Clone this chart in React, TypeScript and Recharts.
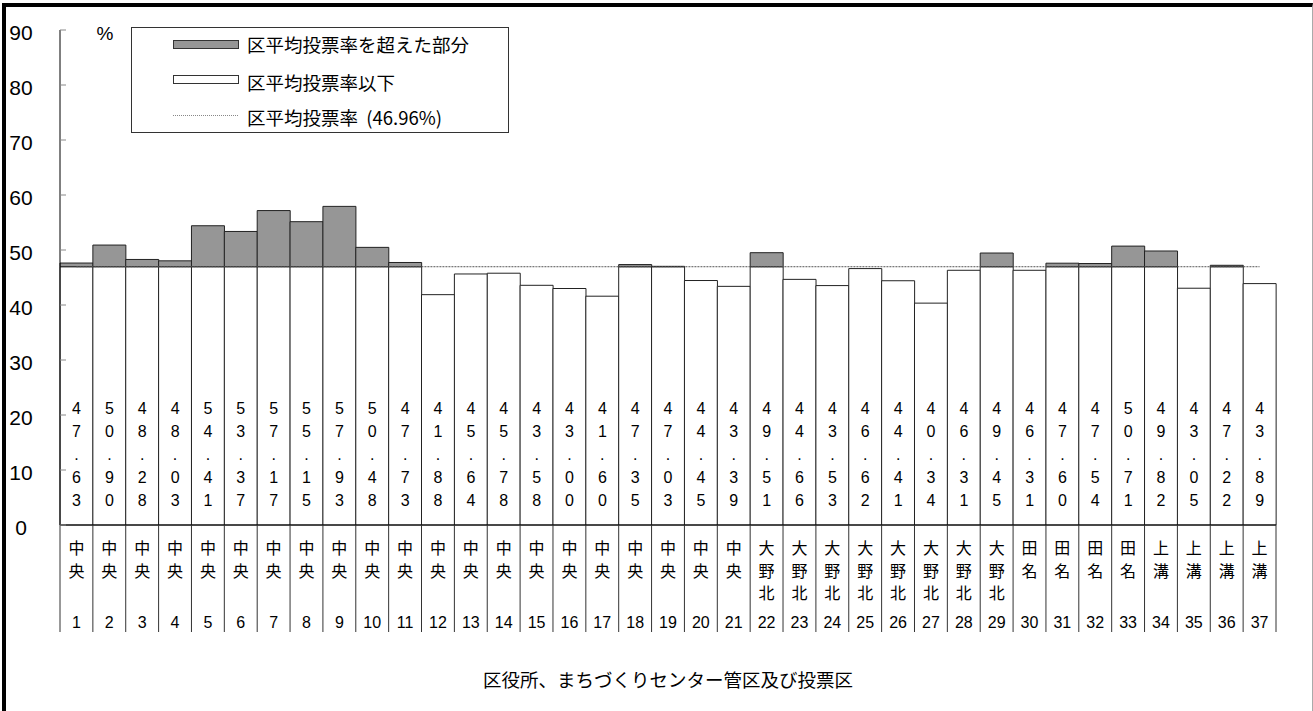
import React from 'react';
import { ComposedChart, Bar, Line, XAxis, YAxis, Legend, LabelList } from 'recharts';

// ---- data ----
const precincts = ['1','2','3','4','5','6','7','8','9','10','11','12','13','14','15','16','17','18','19','20','21','22','23','24','25','26','27','28','29','30','31','32','33','34','35','36','37'];
const areaNames = [
  '中央','中央','中央','中央','中央','中央','中央','中央','中央','中央','中央','中央','中央','中央','中央','中央','中央','中央','中央','中央','中央',
  '大野北','大野北','大野北','大野北','大野北','大野北','大野北','大野北',
  '田名','田名','田名','田名',
  '上溝','上溝','上溝','上溝',
];
const turnout = [
  47.63, 50.90, 48.28, 48.03, 54.41, 53.37, 57.17, 55.15, 57.93, 50.48,
  47.73, 41.88, 45.64, 45.78, 43.58, 43.00, 41.60, 47.35, 47.03, 44.45,
  43.39, 49.51, 44.66, 43.53, 46.62, 44.41, 40.34, 46.31, 49.45, 46.31,
  47.60, 47.54, 50.71, 49.82, 43.05, 47.22, 43.89,
];
const wardAverage = 46.96;
const yTicks = [0, 10, 20, 30, 40, 50, 60, 70, 80, 90];
const legendLabels = ['区平均投票率を超えた部分', '区平均投票率以下', '区平均投票率  (46.96%)'];
const axisTitle = '区役所、まちづくりセンター管区及び投票区';
const unitLabel = '%';

const data = precincts.map((p, i) => ({
  precinct: p,
  area: areaNames[i],
  value: turnout[i],
  base: Math.min(turnout[i], wardAverage),
  excess: Math.max(0, +(turnout[i] - wardAverage).toFixed(2)),
  avg: wardAverage,
}));

// ---- layout ----
const W = 1313;
const H = 711;
const MARGIN = { top: 30, right: 37, bottom: 26, left: 0 };
const YAXIS_W = 60;
const XAXIS_H = 160;
const PLOT_W = W - MARGIN.left - MARGIN.right - YAXIS_W;
const BAND = PLOT_W / precincts.length;

const LATIN = '"Liberation Sans", Arial, "Noto Sans CJK JP", sans-serif';
const CJK = '"Noto Sans CJK JP", "Liberation Sans", sans-serif';
const GRAY = '#969696';

const YTick = (props: any) => {
  const { x, y, payload } = props;
  return (
    <g>
      <line x1={x} x2={x + 6} y1={y} y2={y} stroke="#888" strokeWidth={1} />
      <text x={x - 39} y={y + 2} textAnchor="middle" dominantBaseline="central" fontSize={21} fontFamily={LATIN} fill="#000">
        {payload.value}
      </text>
    </g>
  );
};

const XTick = (props: any) => {
  const { x, y, payload } = props;
  const idx = precincts.indexOf(String(payload.value));
  const name = areaNames[idx] || '';
  const chars = name.split('');
  return (
    <g>
      {idx === 0 && <line x1={x - BAND / 2} x2={x - BAND / 2} y1={y} y2={y + 107} stroke="#333" strokeWidth={1} />}
      <line x1={x + BAND / 2} x2={x + BAND / 2} y1={y} y2={y + 107} stroke="#333" strokeWidth={1} />
      {chars.map((c, k) => (
        <text key={k} x={x} y={y + 22 + k * 22.5} textAnchor="middle" dominantBaseline="central" fontSize={16} fontFamily={CJK} fill="#000">
          {c}
        </text>
      ))}
      <text x={x} y={y + 97} textAnchor="middle" dominantBaseline="central" fontSize={16} fontFamily={LATIN} fill="#000">
        {payload.value}
      </text>
    </g>
  );
};

const ValueLabel = (props: any) => {
  const { x, y, width, height, index, value } = props;
  const v = typeof value === 'number' ? value : turnout[index];
  const s = Number(v).toFixed(2);
  const cx = Number(x) + Number(width) / 2;
  const bottom = Number(y) + Number(height);
  const n = s.length;
  return (
    <g>
      {s.split('').map((c, k) => (
        <text key={k} x={cx} y={bottom - 25 - (n - 1 - k) * 23} textAnchor="middle" dominantBaseline="central" fontSize={16} fontFamily={LATIN} fill="#000">
          {c}
        </text>
      ))}
    </g>
  );
};

const renderLegend = () => (
  <svg width={420} height={115} style={{ overflow: 'visible', display: 'block' }}>
    <text x={15} y={13} textAnchor="middle" dominantBaseline="central" fontSize={19} fontFamily={LATIN} fill="#000">{unitLabel}</text>
    <rect x={41.5} y={7.5} width={377} height={105} fill="#fff" stroke="#333" strokeWidth={1} />
    <rect x={83.5} y={20.5} width={65} height={8} fill={GRAY} stroke="#333" strokeWidth={1} />
    <text x={157} y={24} dominantBaseline="central" fontSize={18.5} fontFamily={CJK} fill="#000">{legendLabels[0]}</text>
    <rect x={83.5} y={55.5} width={65} height={8} fill="#fff" stroke="#333" strokeWidth={1} />
    <text x={157} y={62} dominantBaseline="central" fontSize={18.5} fontFamily={CJK} fill="#000">{legendLabels[1]}</text>
    <line x1={83} x2={148} y1={95.5} y2={95.5} stroke="#888" strokeWidth={1} strokeDasharray="1 1" />
    <text x={157} y={97} dominantBaseline="central" fontSize={18.5} fontFamily={CJK} fill="#000" style={{ whiteSpace: 'pre' }} xmlSpace="preserve">{legendLabels[2]}</text>
  </svg>
);

export default function App() {
  return (
    <div style={{ position: 'absolute', left: 0, top: 0, width: W, height: H, background: '#fff', fontFamily: LATIN }}>
      <ComposedChart width={W} height={H} data={data} margin={MARGIN} barCategoryGap={0} barGap={0}>
        <XAxis
          dataKey="precinct"
          interval={0}
          height={XAXIS_H}
          tickLine={false}
          tickSize={0}
          tickMargin={0}
          axisLine={{ stroke: '#000', strokeWidth: 1 }}
          tick={<XTick />}
          label={{ value: axisTitle, position: 'insideBottom', offset: -2, fontSize: 18.5, fontFamily: CJK, fill: '#000' }}
        />
        <YAxis
          width={YAXIS_W}
          domain={[0, 90]}
          ticks={yTicks}
          interval={0}
          tickLine={false}
          tickSize={0}
          tickMargin={0}
          axisLine={{ stroke: '#000', strokeWidth: 1 }}
          tick={<YTick />}
        />
        <Legend
          content={renderLegend}
          layout="horizontal"
          verticalAlign="middle"
          align="center"
          wrapperStyle={{ left: 90, top: 20, width: 420, height: 115 }}
        />
        <Bar dataKey="base" stackId="t" fill="#fff" stroke="#222" strokeWidth={1} isAnimationActive={false}>
          <LabelList dataKey="value" content={<ValueLabel />} />
        </Bar>
        <Bar dataKey="excess" stackId="t" fill={GRAY} stroke="#222" strokeWidth={1} isAnimationActive={false} />
        <Line dataKey="avg" type="linear" stroke="#555" strokeWidth={1} strokeDasharray="2 1" dot={false} activeDot={false} isAnimationActive={false} />
      </ComposedChart>
      <div
        style={{
          position: 'absolute',
          left: 2,
          top: 3,
          width: W - 2,
          height: H - 3,
          boxSizing: 'border-box',
          borderTop: '4px solid #000',
          borderLeft: '4px solid #000',
          borderRight: '1px solid #aaa',
          pointerEvents: 'none',
        }}
      />
    </div>
  );
}
